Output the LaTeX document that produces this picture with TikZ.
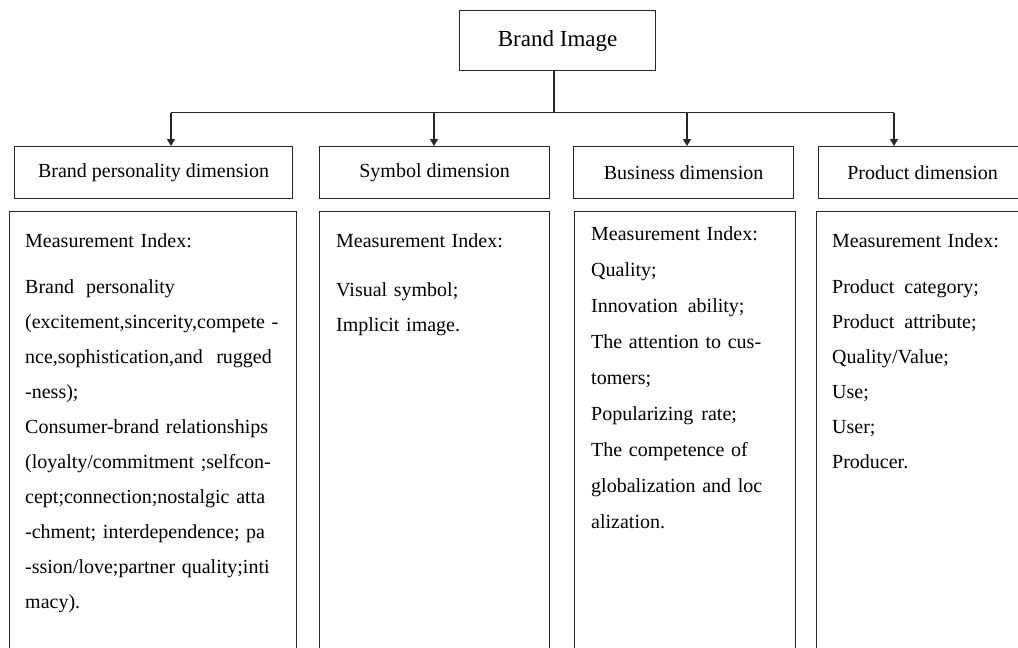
\documentclass[tikz,border=0pt]{standalone}
\usepackage{fontspec}
\setmainfont{Liberation Serif}
\usetikzlibrary{arrows.meta}
\begin{document}
\begin{tikzpicture}[x=1pt,y=-1pt,
  box/.style={draw=black!85,line width=1.2pt,inner sep=0pt,anchor=north west},
  hdr/.style={box,minimum height=52pt,font=\fontsize{20}{24}\selectfont},
  body/.style={box,minimum height=470pt},
  txt/.style={anchor=north west,inner sep=0pt,align=left,font=\fontsize{20}{35}\selectfont},
  conn/.style={draw=black!85,line width=1.2pt},
  arr/.style={conn,-{Triangle[length=7pt,width=8pt]}}]
\clip (0,0) rectangle (1018,648);
\fill[white] (0,0) rectangle (1018,648);
% top
\node[box,minimum width=196pt,minimum height=60pt,font=\fontsize{23}{27}\selectfont] (bi) at (459,10) {Brand Image};
% headers
\node[hdr,minimum width=278pt] (h1) at (14,146) {Brand personality dimension};
\node[hdr,minimum width=230pt] (h2) at (319,146) {Symbol dimension};
\node[hdr,minimum width=220pt] (h3) at (573,146) {Business dimension};
\node[hdr,minimum width=208pt] (h4) at (818,146) {Product dimension};
% bodies
\node[body,minimum width=287pt] (b1) at (9,211) {};
\node[body,minimum width=230pt] (b2) at (319,211) {};
\node[body,minimum width=221pt] (b3) at (574,211) {};
\node[body,minimum width=220pt] (b4) at (816,211) {};
% texts
\node[txt,text width=254pt] (t1) at (25,232) {\rule{0pt}{15pt}Measurement Index:\\[11pt]
Brand\hspace{12pt}personality\\
\makebox[254pt][s]{(excitement,sincerity,compete -}\\
\makebox[254pt][s]{nce,sophistication,and\ \ rugged}\\
-ness);\\
\makebox[254pt][s]{Consumer-brand relationships}\\
\makebox[254pt][s]{(loyalty/commitment ;selfcon-}\\
\makebox[254pt][s]{cept;connection;nostalgic atta}\\
\makebox[254pt][s]{-chment; interdependence; pa}\\
\makebox[254pt][s]{-ssion/love;partner quality;inti}\\
macy).};
\node[txt,text width=200pt] (t2) at (336,232) {\rule{0pt}{15pt}Measurement Index:\\[14pt]
Visual symbol;\\
Implicit image.};
\node[txt,text width=186pt,font=\fontsize{20}{36}\selectfont] (t3) at (591,225) {\rule{0pt}{15pt}Measurement Index:\\
Quality;\\
Innovation\hspace{10pt}ability;\\
\makebox[182pt][s]{The attention to cus-}\\
tomers;\\
Popularizing\hspace{8pt}rate;\\
\makebox[163pt][s]{The competence of}\\
\makebox[185pt][s]{globalization and loc}\\
alization.};
\node[txt,text width=180pt] (t4) at (832,232) {\rule{0pt}{15pt}Measurement Index:\\[11pt]
Product\hspace{10pt}category;\\
Product\hspace{10pt}attribute;\\
Quality/Value;\\
Use;\\
User;\\
Producer.};
% connectors
\coordinate (bus) at (554,112.5);
\coordinate (j1) at (171,112.5);
\coordinate (j2) at (434,112.5);
\coordinate (j3) at (687,112.5);
\coordinate (j4) at (894,112.5);
\draw[conn] (bi.south -| bus) -- (bus);
\draw[conn] (j1) -- (j4);
\draw[arr] (j1) -- (j1 |- h1.north);
\draw[arr] (j2) -- (j2 |- h2.north);
\draw[arr] (j3) -- (j3 |- h3.north);
\draw[arr] (j4) -- (j4 |- h4.north);
\end{tikzpicture}
\end{document}
